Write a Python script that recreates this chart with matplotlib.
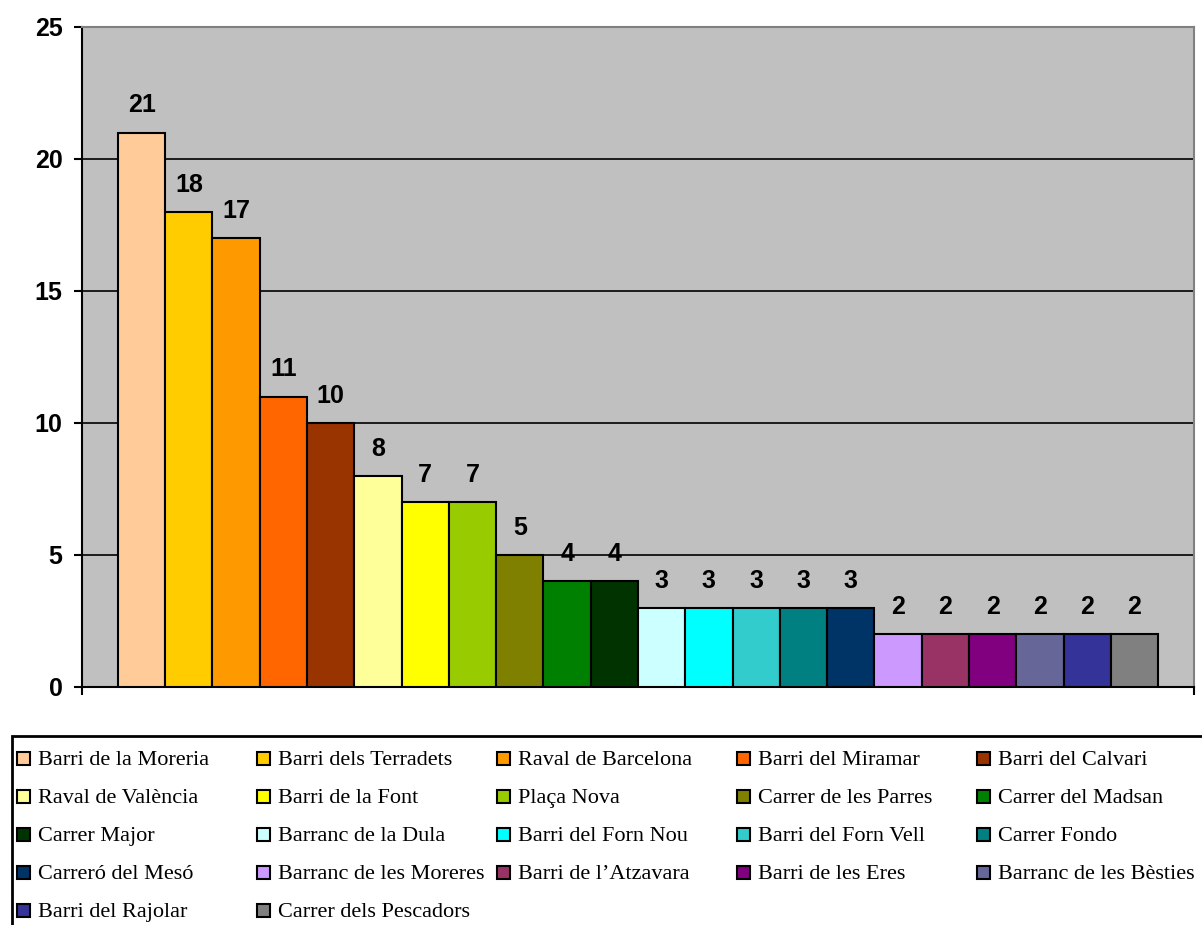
import matplotlib
matplotlib.use("Agg")
import matplotlib.pyplot as plt
from matplotlib.patches import Rectangle

categories = [
    "Barri de la Moreria", "Barri dels Terradets", "Raval de Barcelona", "Barri del Miramar",
    "Barri del Calvari", "Raval de València", "Barri de la Font", "Plaça Nova",
    "Carrer de les Parres", "Carrer del Madsan", "Carrer Major", "Barranc de la Dula",
    "Barri del Forn Nou", "Barri del Forn Vell", "Carrer Fondo", "Carreró del Mesó",
    "Barranc de les Moreres", "Barri de l’Atzavara", "Barri de les Eres",
    "Barranc de les Bèsties", "Barri del Rajolar", "Carrer dels Pescadors",
]
values = [21, 18, 17, 11, 10, 8, 7, 7, 5, 4, 4, 3, 3, 3, 3, 3, 2, 2, 2, 2, 2, 2]
colors = [
    "#FFCC99", "#FFCC00", "#FF9900", "#FF6600", "#993300", "#FFFF99", "#FFFF00", "#99CC00",
    "#808000", "#008000", "#003300", "#CCFFFF", "#00FFFF", "#33CCCC", "#008080", "#003366",
    "#CC99FF", "#993366", "#800080", "#666699", "#333399", "#808080",
]
yticks = [0, 5, 10, 15, 20, 25]

W, H = 1202, 925
fig = plt.figure(figsize=(W / 100, H / 100), dpi=100)
fig.patch.set_facecolor("white")

ax = fig.add_axes([82 / W, 1 - 687 / H, (1194 - 82) / W, (687 - 27) / H])
ax.set_facecolor("#C0C0C0")

n = len(values)
xs = list(range(n))
ax.bar(xs, values, width=1.0, color=colors, edgecolor="black", linewidth=1.5, zorder=3)

margin = 0.76
ax.set_xlim(-0.5 - margin, n - 0.5 + margin)
ax.set_ylim(0, 25)
ax.set_yticks(yticks)
ax.set_yticklabels([str(t) for t in yticks], fontfamily="Liberation Sans",
                   fontweight="bold", fontsize=18)
ax.yaxis.grid(True, color="black", linewidth=1.2, zorder=1)
ax.set_axisbelow(True)
ax.tick_params(axis="y", direction="out", length=6, width=1.5, pad=8, color="black")
ax.set_xticks([-0.5 - margin, n - 0.5 + margin])
ax.set_xticklabels(["", ""])
ax.tick_params(axis="x", direction="out", length=6, width=1.5, color="black")

for side in ["left", "bottom"]:
    ax.spines[side].set_color("black")
    ax.spines[side].set_linewidth(1.5)
for side in ["top", "right"]:
    ax.spines[side].set_color("#808080")
    ax.spines[side].set_linewidth(1.5)

for x, v in zip(xs, values):
    ax.annotate(str(v), (x, v), xytext=(0, 11), textcoords="offset points",
                ha="center", va="bottom", fontfamily="Liberation Sans",
                fontweight="bold", fontsize=18, zorder=5)

# Legend box (extends past right and bottom edges as in the reference)
fig.patches.append(Rectangle((12 / W, -0.05), 1.1, 1 - 736 / H + 0.05,
                             transform=fig.transFigure, fill=False,
                             edgecolor="black", linewidth=2))

ncol = 5
col_w = 240
row_h = 38
for i, (lab, c) in enumerate(zip(categories, colors)):
    r, col = divmod(i, ncol)
    x0 = 17 + col * col_w
    yc = 758 + r * row_h
    fig.patches.append(Rectangle((x0 / W, 1 - (yc + 6.5) / H), 13 / W, 13 / H,
                                 transform=fig.transFigure, facecolor=c,
                                 edgecolor="black", linewidth=1.5))
    fig.text((x0 + 21) / W, 1 - (yc + 7) / H, lab, fontfamily="Liberation Serif",
             fontsize=16, va="baseline", ha="left")

fig.savefig("out.png", dpi=100)
